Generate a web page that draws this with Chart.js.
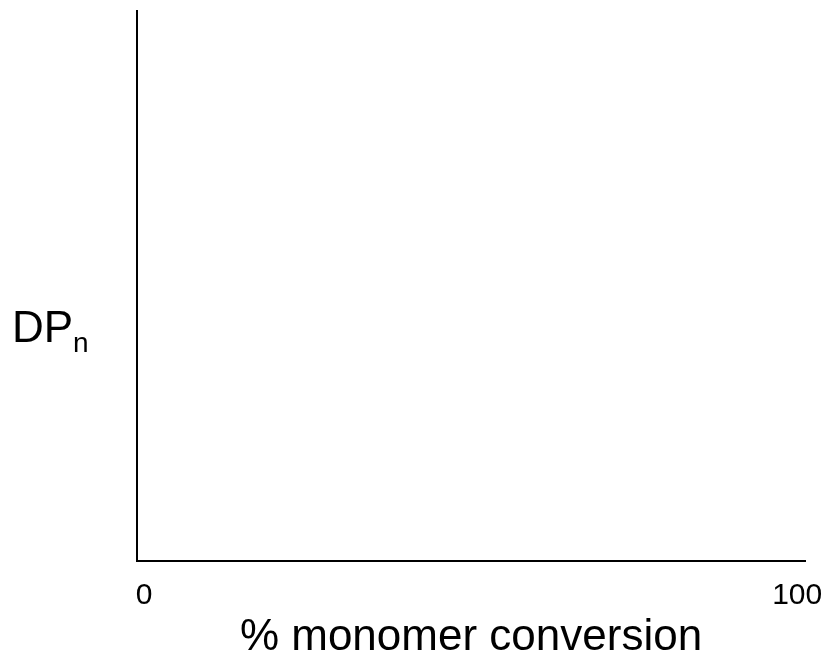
<!DOCTYPE html>
<html>
<head>
<meta charset="utf-8">
<script src="https://cdn.jsdelivr.net/npm/chart.js@4"></script>
<style>
body { margin: 0; background: #fff; }
</style>
</head>
<body>
<canvas id="dpChart" width="827" height="657"></canvas>
<script>
// axis text and ticks (the reference plot is empty, no data marks)
const xTicks = [0, 100];
const xTitle = '% monomer conversion';
const yTitle = 'DP';
const ySub = 'n';
const points = [];

const family = "'Liberation Sans', Arial, sans-serif";

// y label with a subscript, Chart.js titles can't do that
const yLabel = {
  id: 'yLabel',
  afterDraw(chart) {
    const ctx = chart.ctx;
    const area = chart.chartArea;
    ctx.save();
    ctx.fillStyle = '#000';
    ctx.textBaseline = 'alphabetic';
    ctx.textAlign = 'left';
    ctx.font = '44px ' + family;
    const x = area.left - 125, y = area.bottom - 219;
    ctx.fillText(yTitle, x, y);
    const w = ctx.measureText(yTitle).width;
    ctx.font = '28px ' + family;
    ctx.fillText(ySub, x + w, y + 10);
    ctx.restore();
  }
};

new Chart(document.getElementById('dpChart'), {
  type: 'scatter',
  data: { datasets: [{ data: points }] },
  options: {
    responsive: false,
    animation: false,
    devicePixelRatio: 1,
    layout: { padding: { left: 137, top: 11, right: 22, bottom: 0 } },
    plugins: { legend: { display: false }, tooltip: { enabled: false } },
    scales: {
      x: {
        type: 'linear',
        min: -1.1,
        max: 101.2,
        afterBuildTicks(scale) { scale.ticks = xTicks.map(v => ({ value: v })); },
        grid: { display: false, drawTicks: false },
        border: { color: '#000', width: 2 },
        ticks: { color: '#000', font: { family, size: 30 }, padding: 17, maxRotation: 0, autoSkip: false },
        title: { display: true, text: xTitle, color: '#000', font: { family, size: 44 }, padding: { top: 0, bottom: -7 } },
        afterFit(scale) {
          scale.height = 96;
          scale.paddingLeft = 0;
          scale.paddingRight = 0;
        }
      },
      y: {
        min: 0,
        max: 1,
        ticks: { display: false },
        grid: { display: false, drawTicks: false },
        border: { color: '#000', width: 2 },
        afterFit(scale) { scale.width = 0; }
      }
    }
  },
  plugins: [yLabel]
});
</script>
</body>
</html>
